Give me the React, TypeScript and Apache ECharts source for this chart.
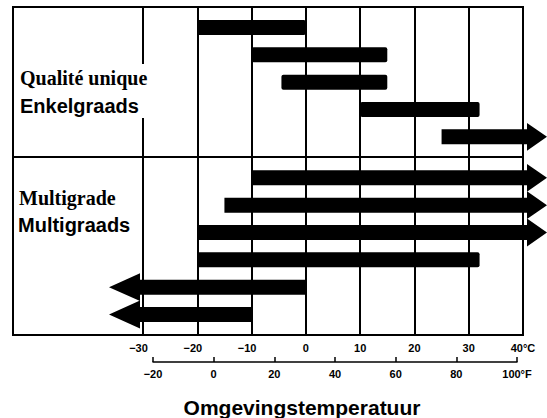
import React, { useEffect, useRef } from 'react';
import * as echarts from 'echarts';

// °C scale (main axis)
const celsiusTicks = [-30, -20, -10, 0, 10, 20, 30, 40];
const celsiusLabels = ['−30', '−20', '−10', '0', '10', '20', '30', '40°C'];
// °F scale (secondary bracket)
const fahrenheitTicks = [-20, 0, 20, 40, 60, 80, 100];
const fahrenheitLabels = ['−20', '0', '20', '40', '60', '80', '100°F'];

// one entry per grade bar (row positions on a 0..12 vertical scale)
const gradeRows = [0.75, 1.75, 2.75, 3.75, 4.75, 6.25, 7.25, 8.25, 9.25, 10.25, 11.25];
// null = open-ended (drawn as arrow)
const lowTemps: (number | null)[] = [-20, -10, -4.5, 10, 25, -10, -15, -20, -20, null, null];
const highTemps: (number | null)[] = [0, 15, 15, 32, null, null, null, null, 32, 0, -10];
const sectionDivider = 5.5;

const topTitles = ['Qualité unique', 'Enkelgraads'];
const bottomTitles = ['Multigrade', 'Multigraads'];
const axisTitle = 'Omgevingstemperatuur';

const C_MIN = -30;
const C_MAX = 40;

export default function App() {
  const ref = useRef<HTMLDivElement>(null);

  useEffect(() => {
    document.body.style.margin = '0';
    if (!ref.current) return;
    const chart = echarts.init(ref.current, null, { renderer: 'svg' });

    const cMap: Record<string, string> = {};
    celsiusTicks.forEach((t, i) => (cMap[String(t)] = celsiusLabels[i]));
    const fMap: Record<string, string> = {};
    fahrenheitTicks.forEach((t, i) => (fMap[String(t)] = fahrenheitLabels[i]));

    const sans = '"Liberation Sans", Arial, sans-serif';
    const serif = '"Liberation Serif", "Times New Roman", serif';

    const data = gradeRows.map((r, i) => [
      lowTemps[i] ?? C_MIN,
      highTemps[i] ?? C_MAX,
      r,
    ]);

    const option: any = {
      animation: false,
      backgroundColor: '#fff',
      grid: [
        { left: 143, right: 24, top: 7, bottom: 83 },
        { left: 153, right: 30, top: 352, height: 10 },
      ],
      xAxis: [
        {
          type: 'value',
          gridIndex: 0,
          min: C_MIN,
          max: C_MAX,
          interval: 10,
          axisLine: { show: false },
          axisTick: { show: false },
          splitLine: { show: true, lineStyle: { color: '#000', width: 2 } },
          axisLabel: {
            showMinLabel: true,
            showMaxLabel: true,
            margin: 7,
            color: '#000',
            fontFamily: sans,
            fontWeight: 'bold',
            fontSize: 11,
            formatter: (v: number) => {
              const s = cMap[String(v)] ?? String(v);
              return v < 0 ? `{v|${s}}{p| }` : `{v|${s}}`;
            },
            rich: {
              v: { fontFamily: sans, fontWeight: 'bold', fontSize: 11, color: '#000' },
              p: { width: 9, fontSize: 11 },
            },
          },
        },
        {
          type: 'value',
          gridIndex: 1,
          min: -20,
          max: 100,
          interval: 20,
          axisLine: { show: true, lineStyle: { color: '#000', width: 1.5 } },
          axisTick: { show: true, inside: true, length: 5, lineStyle: { color: '#000', width: 1.5 } },
          splitLine: { show: false },
          axisLabel: {
            showMinLabel: true,
            showMaxLabel: true,
            margin: 6,
            color: '#000',
            fontFamily: sans,
            fontWeight: 'bold',
            fontSize: 11,
            formatter: (v: number) => fMap[String(v)] ?? String(v),
          },
        },
      ],
      yAxis: [
        { type: 'value', gridIndex: 0, min: 0, max: 12, inverse: true, show: false },
        { type: 'value', gridIndex: 1, min: 0, max: 1, show: false },
      ],
      series: [
        {
          type: 'custom',
          xAxisIndex: 0,
          yAxisIndex: 0,
          clip: false,
          z: 10,
          encode: { x: [0, 1], y: 2 },
          data,
          renderItem: (params: any, api: any) => {
            const i = params.dataIndex;
            const lo = lowTemps[i];
            const hi = highTemps[i];
            const row = gradeRows[i];
            const unit = api.size([0, 1])[1];
            const barH = unit * 0.55;
            const headH = unit * 1.02;
            const yc = api.coord([0, row])[1];
            const xMinEdge = api.coord([C_MIN, row])[0];
            const xMaxEdge = api.coord([C_MAX, row])[0];
            const x0 = lo === null ? xMinEdge - 3 : api.coord([lo, row])[0];
            const x1 = hi === null ? xMaxEdge + 4 : api.coord([hi, row])[0];
            const top = yc - barH / 2;
            const bot = yc + barH / 2;
            const style = { fill: '#000' };
            if (lo === null) {
              return {
                type: 'polygon',
                shape: {
                  points: [
                    [x0 - 31, yc],
                    [x0, yc - headH / 2],
                    [x0, top],
                    [x1, top],
                    [x1, bot],
                    [x0, bot],
                    [x0, yc + headH / 2],
                  ],
                },
                style,
              };
            }
            if (hi === null) {
              return {
                type: 'polygon',
                shape: {
                  points: [
                    [x0, top],
                    [x1, top],
                    [x1, yc - headH / 2],
                    [x1 + 20, yc],
                    [x1, yc + headH / 2],
                    [x1, bot],
                    [x0, bot],
                  ],
                },
                style,
              };
            }
            return {
              type: 'rect',
              shape: { x: x0, y: top, width: x1 - x0, height: barH, r: 2 },
              style,
            };
          },
        },
      ],
      graphic: [
        {
          type: 'rect',
          z: 1,
          shape: { x: 13, y: 7, width: 510, height: 328 },
          style: { fill: 'none', stroke: '#000', lineWidth: 2 },
        },
        {
          type: 'line',
          z: 1,
          shape: { x1: 13, y1: 157, x2: 523, y2: 157 },
          style: { stroke: '#000', lineWidth: 2 },
        },
        {
          type: 'rect',
          z: 3,
          shape: { x: 16, y: 64, width: 132, height: 54 },
          style: { fill: '#fff' },
        },
        {
          type: 'text',
          z: 4,
          x: 20,
          y: 78,
          style: { text: topTitles[0], font: `bold 20px ${serif}`, fill: '#000', verticalAlign: 'middle', align: 'left' },
        },
        {
          type: 'text',
          z: 4,
          x: 20,
          y: 106,
          style: { text: topTitles[1], font: `bold 20px ${sans}`, fill: '#000', verticalAlign: 'middle', align: 'left' },
        },
        {
          type: 'text',
          z: 4,
          x: 19,
          y: 198,
          style: { text: bottomTitles[0], font: `bold 20px ${serif}`, fill: '#000', verticalAlign: 'middle', align: 'left' },
        },
        {
          type: 'text',
          z: 4,
          x: 18,
          y: 225,
          style: { text: bottomTitles[1], font: `bold 20px ${sans}`, fill: '#000', verticalAlign: 'middle', align: 'left' },
        },
        {
          type: 'text',
          z: 4,
          x: 302,
          y: 407,
          style: { text: axisTitle, font: `bold 21px ${sans}`, fill: '#000', verticalAlign: 'middle', align: 'center' },
        },
      ],
    };

    chart.setOption(option);
    return () => chart.dispose();
  }, []);

  return <div ref={ref} style={{ width: 547, height: 418 }} />;
}
